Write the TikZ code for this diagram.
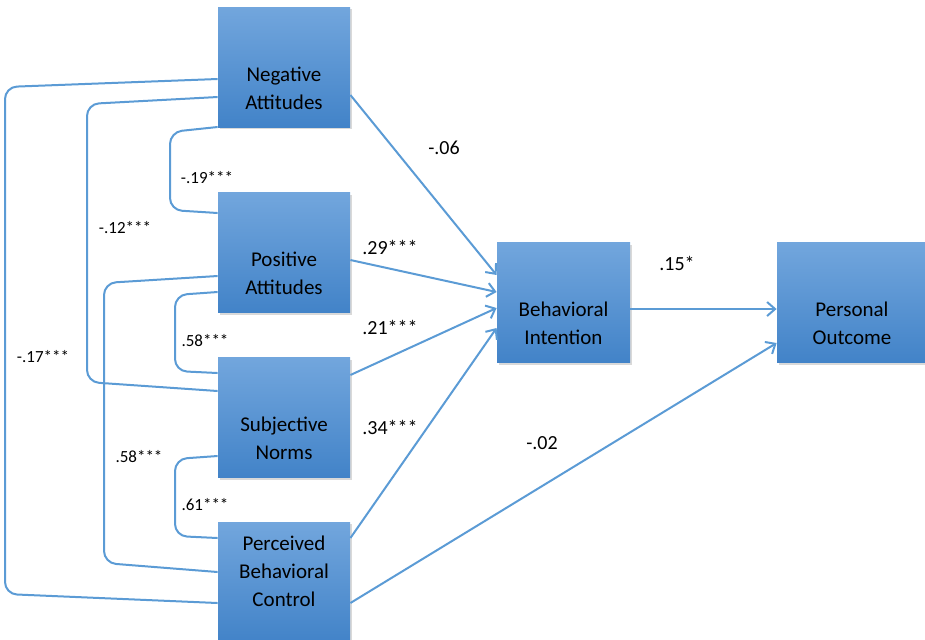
\documentclass[tikz,border=0pt]{standalone}
\usepackage{fontspec}
\setmainfont{Carlito}
\usetikzlibrary{arrows.meta,shadows}

\definecolor{boxtop}{RGB}{114,166,221}
\definecolor{boxbot}{RGB}{66,131,200}
\definecolor{linkblue}{RGB}{91,155,213}

\tikzset{
  factor/.style={rectangle, minimum width=66pt, minimum height=60pt,
    top color=boxtop, bottom color=boxbot, draw=none,
    drop shadow={shadow xshift=1.2pt, shadow yshift=-1.2pt, opacity=0.3}},
  factortext/.style={align=center, font=\fontsize{10.5}{14}\selectfont, yshift=-10.5pt},
  corr/.style={draw=linkblue, line width=1pt, rounded corners=6},
  effect/.style={draw=linkblue, line width=1pt, -{Straight Barb[length=4pt,width=7pt]}},
  coef/.style={font=\fontsize{10}{12}\selectfont},
  corrcoef/.style={font=\fontsize{8.5}{10}\selectfont},
}

\begin{document}
\begin{tikzpicture}[x=0.5pt, y=-0.5pt]
				\useasboundingbox (0,0) rectangle (925,639);
				\clip (0,0) rectangle (925,639);
				% predictors
				\node[factor] (na) at (284,67) {};
				\node[factortext] (natext) at (na.center) {Negative\\Attitudes};
				\node[factor] (pa) at (284,252.5) {};
				\node[factortext] (patext) at (pa.center) {Positive\\Attitudes};
				\node[factor] (sn) at (284,417.5) {};
				\node[factortext] (sntext) at (sn.center) {Subjective\\Norms};
				\node[factor] (pbc) at (284,582) {};
				\node[factortext, yshift=16pt] (pbctext) at (pbc.center) {Perceived\\Behavioral\\Control};
				% intention and outcome
				\node[factor, minimum width=66.5pt] (bi) at (563.5,302.5) {};
				\node[factortext] (bitext) at (bi.center) {Behavioral\\Intention};
				\node[factor, minimum width=75pt] (po) at (852,302.5) {};
				\node[factortext] (potext) at (po.center) {Personal\\Outcome};
				% correlations between predictors
				\draw[corr] (na.west |- 0,79) -- (5,87) -- (5,594) -- (pbc.west |- 0,603);
				\draw[corr] (na.west |- 0,97) -- (87,104) -- (87,382) -- (sn.west |- 0,391);
				\draw[corr] (na.west |- 0,127) -- (170,132) -- (170,210) -- (pa.west |- 0,213);
				\draw[corr] (pa.west |- 0,276) -- (104,283) -- (104,563) -- (pbc.west |- 0,572);
				\draw[corr] (pa.west |- 0,292) -- (175,295) -- (175,371) -- (sn.west |- 0,373);
				\draw[corr] (sn.west |- 0,456) -- (175,459) -- (175,536) -- (pbc.west |- 0,538);
				\node[corrcoef] (c1) at (207,178) {-.19***};
				\node[corrcoef] (c2) at (125,228) {-.12***};
				\node[corrcoef] (c3) at (43,357) {-.17***};
				\node[corrcoef] (c4) at (205,341) {.58***};
				\node[corrcoef] (c5) at (139,457) {.58***};
				\node[corrcoef] (c6) at (205,505) {.61***};
				% paths
				\draw[effect] (na.east |- 0,95) -- (bi.west |- 0,275);
				\draw[effect] (pa.east |- 0,260) -- (bi.west |- 0,292);
				\draw[effect] (sn.east |- 0,375) -- (bi.west |- 0,308);
				\draw[effect] (pbc.east |- 0,538) -- (bi.west |- 0,328);
				\draw[effect] (bi.east |- 0,309) -- (po.west |- 0,309);
				\draw[effect] (pbc.east |- 0,603) -- (po.west |- 0,343);
				\node[coef] (p1) at (444,148) {-.06};
				\node[coef] (p2) at (390,247) {.29***};
				\node[coef] (p3) at (390,327) {.21***};
				\node[coef] (p4) at (390,427) {.34***};
				\node[coef] (p5) at (677,263) {.15*};
				\node[coef] (p6) at (542,443) {-.02};
			\end{tikzpicture}
\end{document}
